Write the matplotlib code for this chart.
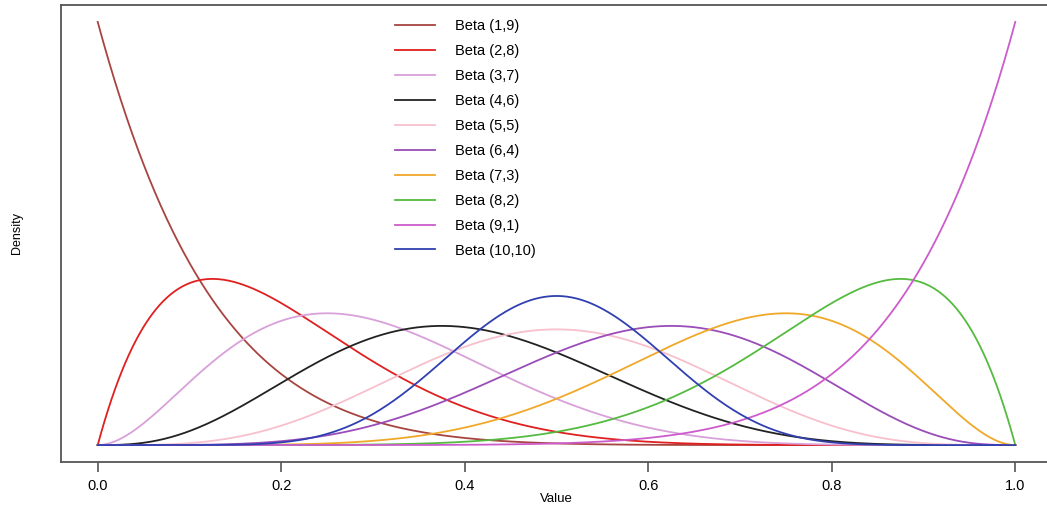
import math
import numpy as np
import matplotlib
matplotlib.use("Agg")
import matplotlib.pyplot as plt

plt.rcParams['font.family'] = ['Liberation Sans', 'DejaVu Sans']

# shape parameters of each curve, as given in the legend
alphas = [1, 2, 3, 4, 5, 6, 7, 8, 9, 10]
betas = [9, 8, 7, 6, 5, 4, 3, 2, 1, 10]
labels = ["Beta (1,9)", "Beta (2,8)", "Beta (3,7)", "Beta (4,6)", "Beta (5,5)",
          "Beta (6,4)", "Beta (7,3)", "Beta (8,2)", "Beta (9,1)", "Beta (10,10)"]
colors = ["#a84440", "#e02020", "#d9a0d9", "#222222", "#f7c0cc",
          "#9a4cb8", "#f0a828", "#55bb40", "#cc5ccc", "#3040b0"]
# the blue curve peaks lower in the picture than the textbook density
heights = [1, 1, 1, 1, 1, 1, 1, 1, 1, 0.9]
xticks = [0.0, 0.2, 0.4, 0.6, 0.8, 1.0]


def beta_pdf(x, a, b):
    lb = math.lgamma(a) + math.lgamma(b) - math.lgamma(a + b)
    return np.exp((a - 1) * np.log(x) + (b - 1) * np.log1p(-x) - lb)


x = np.linspace(1e-9, 1 - 1e-9, 801)

fig = plt.figure(figsize=(10.47, 5.08), dpi=100)
ax = fig.add_axes([61 / 1047, 46 / 508, 991 / 1047, 457 / 508])

for a, b, lab, c, h in zip(alphas, betas, labels, colors, heights):
    y = beta_pdf(x, a, b) * h
    ax.plot(x, y, color=c, lw=1.3, label=lab)

ax.set_xlim(-0.04, 1.04)
ax.set_ylim(-0.36, 9.36)
ax.set_xticks(xticks)
ax.set_xticklabels(["%.1f" % t for t in xticks], fontsize=10.5)
ax.set_yticks([])
ax.tick_params(axis='x', length=7, width=1.2, color='#555555', pad=5)
for s in ax.spines.values():
    s.set_color('#555555')
    s.set_linewidth(1.3)
ax.set_xlabel("Value", fontsize=9.5, labelpad=0)
ax.set_ylabel("Density", fontsize=9, labelpad=27)

ax.legend(loc='upper left', bbox_to_anchor=(382 / 1047, 502 / 508),
          bbox_transform=fig.transFigure, frameon=False, fontsize=10.5,
          handlelength=2.75, handletextpad=1.35, labelspacing=0.75)

fig.savefig("out.png", dpi=100)
